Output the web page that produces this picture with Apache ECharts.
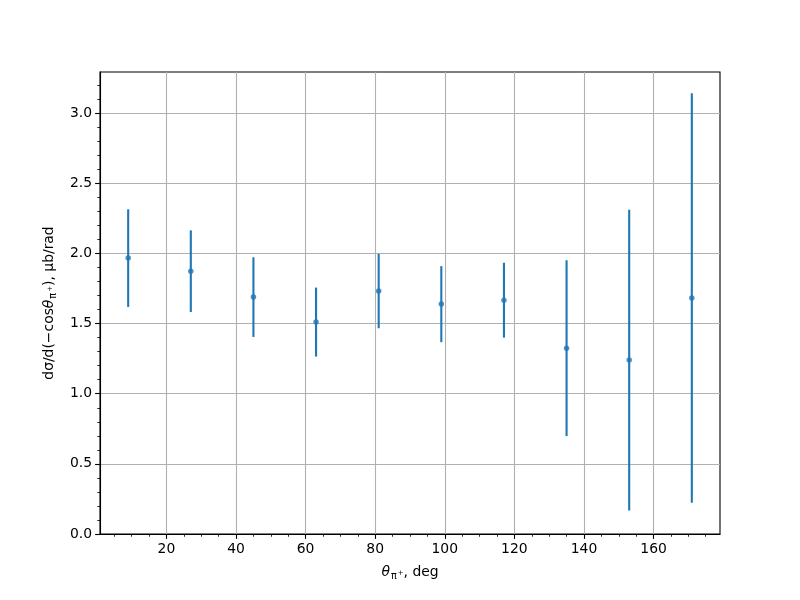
<!DOCTYPE html>
<html>
<head>
<meta charset="utf-8">
<script src="https://cdn.jsdelivr.net/npm/echarts@6/dist/echarts.min.js"></script>
<style>html,body{margin:0;padding:0;background:#fff}#c{width:800px;height:600px}</style>
</head>
<body>
<div id="c"></div>
<script>
const angles = [9, 27, 45, 63, 81, 99, 117, 135, 153, 171];
const values = [1.967, 1.874, 1.689, 1.511, 1.732, 1.639, 1.667, 1.325, 1.240, 1.682];
const errors = [0.348, 0.291, 0.284, 0.246, 0.265, 0.271, 0.267, 0.627, 1.072, 1.460];
const xMajorTicks = [20, 40, 60, 80, 100, 120, 140, 160];
const xMinorTicks = [5, 10, 15, 25, 30, 35, 45, 50, 55, 65, 70, 75, 85, 90, 95, 105, 110, 115, 125, 130, 135, 145, 150, 155, 165, 170, 175];
const yMajorTicks = [0.0, 0.5, 1.0, 1.5, 2.0, 2.5, 3.0];
const yMinorTicks = [0.1, 0.2, 0.3, 0.4, 0.6, 0.7, 0.8, 0.9, 1.1, 1.2, 1.3, 1.4, 1.6, 1.7, 1.8, 1.9, 2.1, 2.2, 2.3, 2.4, 2.6, 2.7, 2.8, 2.9, 3.1, 3.2];

const X_MIN = 0.9, X_MAX = 179.1, Y_MIN = 0, Y_MAX = 3.294;
const FONT = 'DejaVu Sans';
const FS = 13.9;
const BLUE = '#1f77b4';

const data = angles.map((a, i) => [a, values[i], errors[i]]);

const chart = echarts.init(document.getElementById('c'), null, {renderer: 'canvas'});

const baseX = {
  type: 'value', min: X_MIN, max: X_MAX, gridIndex: 0, position: 'bottom'
};
const baseY = {
  type: 'value', min: Y_MIN, max: Y_MAX, gridIndex: 0, position: 'left'
};

const rich = {
  it: {fontStyle: 'italic', fontSize: FS, fontFamily: FONT, color: '#000', lineHeight: 20, verticalAlign: 'middle'},
  sub: {fontSize: 9.7, fontFamily: FONT, color: '#000', lineHeight: 20, verticalAlign: 'bottom', padding: [0, 0, 1, 1]},
  sup: {fontSize: 7, fontFamily: FONT, color: '#000', lineHeight: 20, verticalAlign: 'bottom', padding: [0, 0, 5, 1]},
  n: {fontSize: FS, fontFamily: FONT, color: '#000', lineHeight: 20, verticalAlign: 'middle'}
};

chart.setOption({
  animation: false,
  backgroundColor: '#fff',
  textStyle: {fontFamily: FONT},
  grid: {left: 100, right: 80, top: 72, bottom: 66, show: true, borderColor: '#000', borderWidth: 1.1, backgroundColor: 'transparent'},
  xAxis: [
    Object.assign({}, baseX, {
      name: '{it|θ}{sub|π}{sup|+}{n|, deg}',
      nameLocation: 'middle',
      nameGap: 28,
      nameTextStyle: {color: '#000', fontSize: FS, fontFamily: FONT, rich: rich},
      axisLine: {show: true, onZero: false, lineStyle: {color: '#000', width: 1.1}},
      axisTick: {show: true, inside: false, length: 4.9, customValues: xMajorTicks, lineStyle: {color: '#000', width: 1.1}},
      axisLabel: {show: true, customValues: xMajorTicks, margin: 8, color: '#000', fontSize: FS, fontFamily: FONT,
        formatter: v => String(Math.round(v))},
      splitLine: {show: true, lineStyle: {color: '#b0b0b0', width: 1.1}},
      minorTick: {show: false}
    }),
    Object.assign({}, baseX, {
      axisLine: {show: false, onZero: false},
      axisTick: {show: true, inside: false, length: 2.8, customValues: xMinorTicks, lineStyle: {color: '#000', width: 0.8}},
      axisLabel: {show: false, customValues: xMinorTicks},
      splitLine: {show: false}
    })
  ],
  yAxis: [
    Object.assign({}, baseY, {
      name: '{n|dσ/d(−cos}{it|θ}{sub|π}{sup|+}{n|), μb/rad}',
      nameLocation: 'middle',
      nameRotate: 90,
      nameGap: 34,
      nameTextStyle: {color: '#000', fontSize: FS, fontFamily: FONT, rich: rich},
      axisLine: {show: true, onZero: false, lineStyle: {color: '#000', width: 1.1}},
      axisTick: {show: true, inside: false, length: 4.9, customValues: yMajorTicks, lineStyle: {color: '#000', width: 1.1}},
      axisLabel: {show: true, customValues: yMajorTicks, margin: 8, color: '#000', fontSize: FS, fontFamily: FONT,
        formatter: v => v.toFixed(1)},
      splitLine: {show: true, lineStyle: {color: '#b0b0b0', width: 1.1}}
    }),
    Object.assign({}, baseY, {
      axisLine: {show: false, onZero: false},
      axisTick: {show: true, inside: false, length: 2.8, customValues: yMinorTicks, lineStyle: {color: '#000', width: 0.8}},
      axisLabel: {show: false, customValues: yMinorTicks},
      splitLine: {show: false}
    })
  ],
  series: [
    {
      type: 'custom',
      xAxisIndex: 0, yAxisIndex: 0,
      data: data,
      z: 3,
      renderItem: function (params, api) {
        const x = api.value(0), y = api.value(1), e = api.value(2);
        const p1 = api.coord([x, y - e]);
        const p2 = api.coord([x, y + e]);
        return {
          type: 'line',
          shape: {x1: p1[0], y1: p1[1], x2: p2[0], y2: p2[1]},
          style: {stroke: BLUE, lineWidth: 2.1, lineCap: 'butt'}
        };
      }
    },
    {
      type: 'scatter',
      xAxisIndex: 0, yAxisIndex: 0,
      data: data.map(d => [d[0], d[1]]),
      symbol: 'circle',
      symbolSize: 5.5,
      itemStyle: {color: BLUE},
      z: 4
    }
  ]
});
</script>
</body>
</html>
